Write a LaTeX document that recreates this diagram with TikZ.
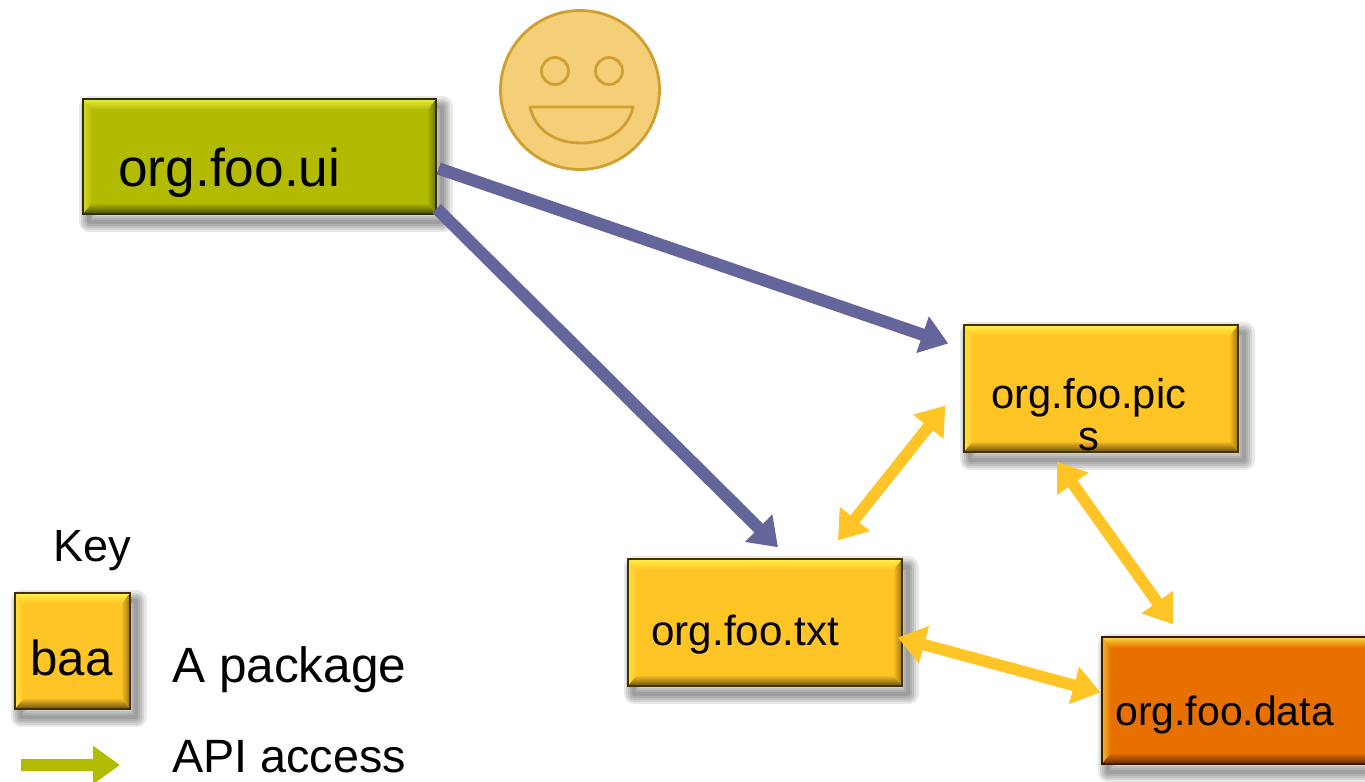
\documentclass[tikz,border=0pt]{standalone}
\usepackage{fontspec}
\setmainfont{Liberation Sans}
\usetikzlibrary{arrows.meta}
\definecolor{pkgolive}{HTML}{B2BB00}
\definecolor{pkgamber}{HTML}{FFC425}
\definecolor{pkgorange}{HTML}{E87000}
\definecolor{apipurple}{HTML}{64659A}
\definecolor{smileface}{HTML}{F5CE78}
\definecolor{smileline}{HTML}{CFA030}
\newcommand{\bevelbox}[1]{
	\coordinate (nw) at (path picture bounding box.north west);
	\coordinate (ne) at (path picture bounding box.north east);
	\coordinate (sw) at (path picture bounding box.south west);
	\coordinate (se) at (path picture bounding box.south east);
	\coordinate (inw) at ([shift={(9,11)}]nw);
	\coordinate (ine) at ([shift={(-9,11)}]ne);
	\coordinate (isw) at ([shift={(9,-11)}]sw);
	\coordinate (ise) at ([shift={(-9,-11)}]se);
	\shade [left color=#1!60!yellow!85!white,right color=#1] (nw) -- (inw) -- (isw) -- (sw) -- cycle;
	\shade [left color=#1,right color=#1!60!black] (ne) -- (ine) -- (ise) -- (se) -- cycle;
	\shade [top color=#1!35!yellow!75!white,bottom color=#1] (nw) -- (ne) -- (ine) -- (inw) -- cycle;
	\shade [top color=#1,bottom color=#1!40!black] (sw) -- (se) -- (ise) -- (isw) -- cycle;
}
\tikzset{
	shadowlayer/.style={preaction={draw=black,opacity=.09,line width=#1,line join=round,transform canvas={shift={(3.5pt,-4.5pt)}}}},
	softshadow/.style={shadowlayer=12pt,shadowlayer=9.5pt,shadowlayer=7pt,shadowlayer=4.5pt,shadowlayer=2pt},
	pkgbox/.style={rectangle,inner sep=0pt,softshadow,fill=#1,draw=black!75!#1,line width=.8pt,path picture={\bevelbox{#1}}},
	widebox/.style={minimum width=5.48cm,minimum height=2.54cm},
	pkgtext/.style={anchor=base west,inner sep=0pt,font=\fontsize{23.7}{23.8}\selectfont},
	keytext/.style={anchor=base west,inner sep=0pt,font=\fontsize{27}{30}\selectfont},
	usesarrow/.style={draw=apipurple,line width=7pt,-{Triangle[length=15.5pt,width=21pt]}},
	apiarrow/.style={draw=pkgamber,line width=6.6pt,{Triangle[length=15.5pt,width=21pt]}-{Triangle[length=15.5pt,width=21pt]}},
	smile/.style={draw=smileline,line width=1.6pt}
}
\begin{document}
\begin{tikzpicture}[x=.02cm,y=-.02cm]
	\useasboundingbox (0,0) rectangle (1365,781);
	\node [circle,smile,fill=smileface,inner sep=0pt,minimum size=3.18cm] (face) at (580,90) {};
	\node [circle,smile,inner sep=0pt,minimum size=.54cm] (lefteye) at (555,71) {};
	\node [circle,smile,inner sep=0pt,minimum size=.54cm] (righteye) at (609,71) {};
	\draw [smile,line join=round] (530,107) -- (633,107) .. controls (628,130) and (607,143) .. (581,143) .. controls (555,143) and (535,130) .. (530,107) -- cycle;

	\node [pkgbox=pkgolive,minimum width=7.06cm,minimum height=2.3cm] (ui) at (259.5,156.5) {};
	\node [pkgbox=pkgamber,widebox] (pics) at (1101,388.5) {};
	\node [pkgbox=pkgamber,widebox] (txt) at (765,622.5) {};
	\node [pkgbox=pkgorange,widebox] (data) at (1239,700.5) {};
	\node [pkgbox=pkgamber,minimum width=2.3cm,minimum height=2.32cm] (baa) at (72.5,651) {};

	\node [anchor=base west,inner sep=0pt,font=\fontsize{30.3}{30}\selectfont] (uitext) at (118,186) {org.foo.ui};
	\node [pkgtext,align=center,anchor=north] (picstext) at (1089,378) {org.foo.pic\\s};
	\node [pkgtext,font=\fontsize{24}{24}\selectfont] (txttext) at (651,645) {org.foo.txt};
	\node [pkgtext,font=\fontsize{23.3}{24}\selectfont] (datatext) at (1115,725) {org.foo.data};
	\node [keytext,font=\fontsize{28}{30}\selectfont] (baatext) at (30,675) {baa};
	\node [keytext,font=\fontsize{25.7}{30}\selectfont] (keytitle) at (53,561) {Key};
	\node [keytext,font=\fontsize{28.2}{30}\selectfont] (packagetext) at (172,682) {A package};
	\node [keytext,font=\fontsize{26.6}{30}\selectfont] (accesstext) at (172,772) {API access};

	\draw [usesarrow] ([shift={(2,12)}]ui.east) -- ([shift={(-15,-45)}]pics.west);
	\draw [usesarrow] ([shift={(0,52)}]ui.east) -- ([shift={(13,-11)}]txt.north);
	\draw [apiarrow] ([shift={(73,-18)}]txt.north) -- ([shift={(-18,17)}]pics.west);
	\draw [apiarrow] ([shift={(-44,9)}]pics.south) -- ([shift={(-66,-12)}]data.north);
	\draw [apiarrow] ([shift={(-5,15)}]txt.east) -- ([shift={(-1,-8)}]data.west);

	\coordinate (keyfrom) at (21,765);
	\coordinate (keyto) at (120,765);
	\draw [draw=pkgolive,line width=6.6pt,-{Triangle[length=15.5pt,width=21pt]}] (keyfrom) -- (keyto);
\end{tikzpicture}
\end{document}
